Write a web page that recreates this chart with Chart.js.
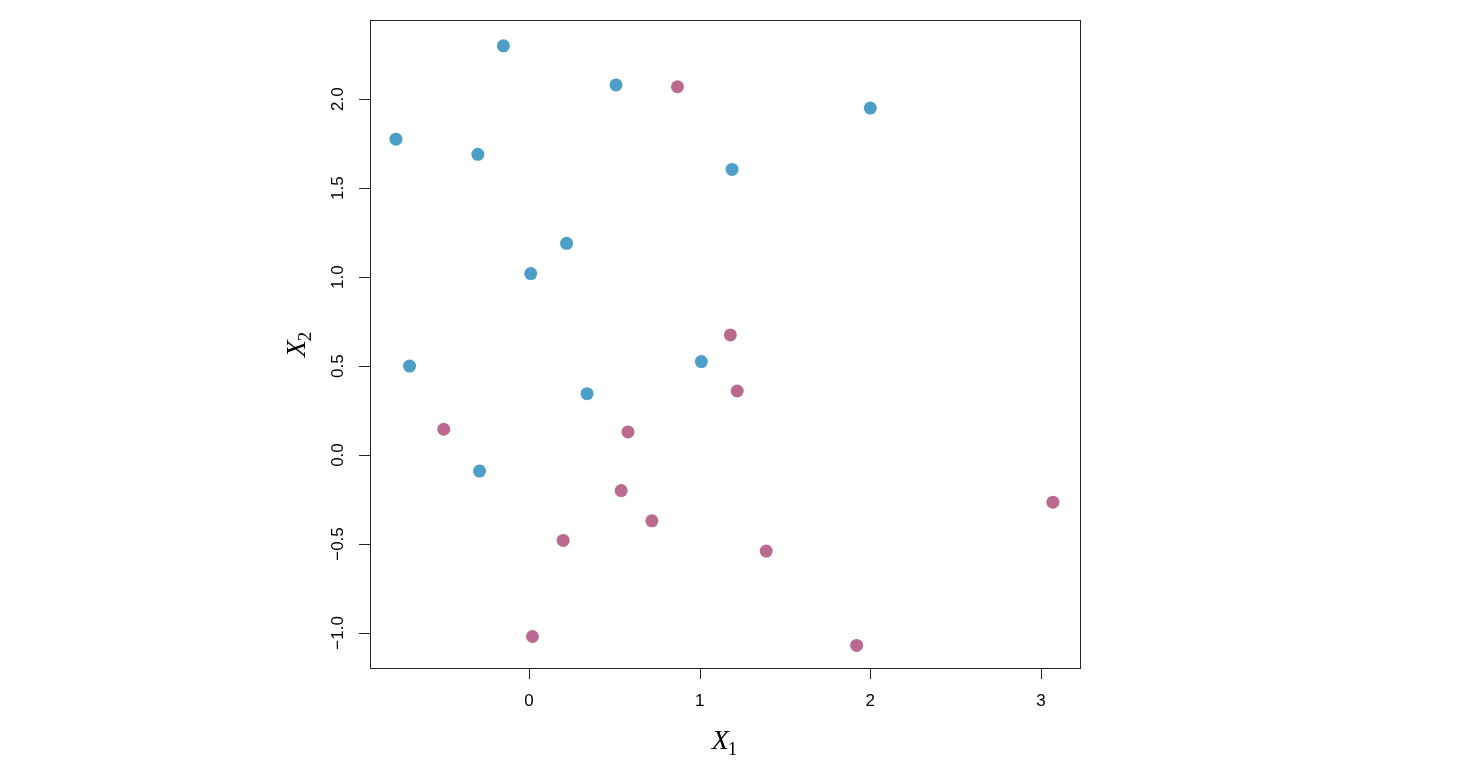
<!DOCTYPE html>
<html>
<head>
<meta charset="utf-8">
<script src="https://cdn.jsdelivr.net/npm/chart.js@4"></script>
<style>
  body { margin: 0; background: #fff; }
</style>
</head>
<body>
<canvas id="myChart" width="1482" height="782"></canvas>
<script>
// values
const blueX = [-0.15, 0.51, -0.78, -0.30, 1.19, 2.00, 0.22, 0.01, -0.70, 1.01, 0.34, -0.29];
const blueY = [2.30, 2.08, 1.775, 1.69, 1.605, 1.95, 1.19, 1.02, 0.50, 0.525, 0.345, -0.09];
const pinkX = [0.87, 1.18, 1.22, -0.50, 0.58, 0.54, 0.72, 0.20, 1.39, 0.02, 1.92, 3.07];
const pinkY = [2.07, 0.675, 0.36, 0.145, 0.13, -0.20, -0.37, -0.48, -0.54, -1.02, -1.07, -0.265];

const xTicks = [0, 1, 2, 3];
const yTicks = [-1.0, -0.5, 0.0, 0.5, 1.0, 1.5, 2.0];

function toPoints(xs, ys) {
    return xs.map((x, i) => ({ x: x, y: ys[i] }));
}

function fmt(v, digits) {
    const s = v.toFixed(digits);
    return v < 0 ? '\u2212' + s.slice(1) : s;
}

// R-style box, axes and labels
const rAxes = {
    id: 'rAxes',
    afterDraw(chart) {
        const ctx = chart.ctx;
        const a = chart.chartArea;
        const xs = chart.scales.x;
        const ys = chart.scales.y;
        ctx.save();
        ctx.strokeStyle = '#222';
        ctx.lineWidth = 1;
        ctx.strokeRect(a.left + 0.5, a.top + 0.5, a.right - a.left, a.bottom - a.top);

        ctx.fillStyle = '#000';
        ctx.font = '17px "Liberation Sans", Arial, sans-serif';
        ctx.textAlign = 'center';
        ctx.textBaseline = 'middle';

        // x axis
        const x0 = xs.getPixelForValue(xTicks[0]);
        const x1 = xs.getPixelForValue(xTicks[xTicks.length - 1]);
        ctx.beginPath();
        ctx.moveTo(x0, a.bottom + 0.5);
        ctx.lineTo(x1, a.bottom + 0.5);
        xTicks.forEach(t => {
            const px = Math.round(xs.getPixelForValue(t)) + 0.5;
            ctx.moveTo(px, a.bottom);
            ctx.lineTo(px, a.bottom + 11);
        });
        ctx.stroke();
        xTicks.forEach(t => {
            ctx.fillText(String(t), xs.getPixelForValue(t), a.bottom + 33);
        });

        // y axis
        const y0 = ys.getPixelForValue(yTicks[0]);
        const y1 = ys.getPixelForValue(yTicks[yTicks.length - 1]);
        ctx.beginPath();
        ctx.moveTo(a.left + 0.5, y0);
        ctx.lineTo(a.left + 0.5, y1);
        yTicks.forEach(t => {
            const py = Math.round(ys.getPixelForValue(t)) + 0.5;
            ctx.moveTo(a.left, py);
            ctx.lineTo(a.left - 11, py);
        });
        ctx.stroke();
        yTicks.forEach(t => {
            ctx.save();
            ctx.translate(a.left - 32, ys.getPixelForValue(t));
            ctx.rotate(-Math.PI / 2);
            ctx.fillText(fmt(t, 1), 0, 0);
            ctx.restore();
        });

        // axis titles
        const drawTitle = (cx, cy, rot, sub) => {
            ctx.save();
            ctx.translate(cx, cy);
            ctx.rotate(rot);
            ctx.textAlign = 'left';
            ctx.textBaseline = 'alphabetic';
            ctx.font = 'italic 28px "Liberation Serif", "DejaVu Serif", serif';
            const w1 = ctx.measureText('X').width;
            ctx.font = '19px "Liberation Serif", "DejaVu Serif", serif';
            const w2 = ctx.measureText(sub).width;
            const start = -(w1 + w2) / 2;
            ctx.font = 'italic 28px "Liberation Serif", "DejaVu Serif", serif';
            ctx.fillText('X', start, 9);
            ctx.font = '19px "Liberation Serif", "DejaVu Serif", serif';
            ctx.fillText(sub, start + w1 - 1, 15);
            ctx.restore();
        };
        drawTitle((a.left + a.right) / 2, 740, 0, '1');
        drawTitle(296, (a.top + a.bottom) / 2, -Math.PI / 2, '2');
        ctx.restore();
    }
};

new Chart(document.getElementById('myChart'), {
    type: 'scatter',
    data: {
        datasets: [
            {
                label: 'blue',
                data: toPoints(blueX, blueY),
                backgroundColor: 'rgb(76, 158, 199)',
                borderWidth: 0,
                pointRadius: 6.5,
                pointHoverRadius: 6.5
            },
            {
                label: 'pink',
                data: toPoints(pinkX, pinkY),
                backgroundColor: 'rgb(186, 106, 142)',
                borderWidth: 0,
                pointRadius: 6.5,
                pointHoverRadius: 6.5
            }
        ]
    },
    options: {
        responsive: false,
        animation: false,
        devicePixelRatio: 1,
        layout: { padding: { left: 370, right: 402, top: 20, bottom: 114 } },
        plugins: {
            legend: { display: false },
            tooltip: { enabled: false }
        },
        scales: {
            x: { type: 'linear', min: -0.932, max: 3.229, display: false },
            y: { type: 'linear', min: -1.197, max: 2.445, display: false }
        }
    },
    plugins: [rAxes]
});
</script>
</body>
</html>
